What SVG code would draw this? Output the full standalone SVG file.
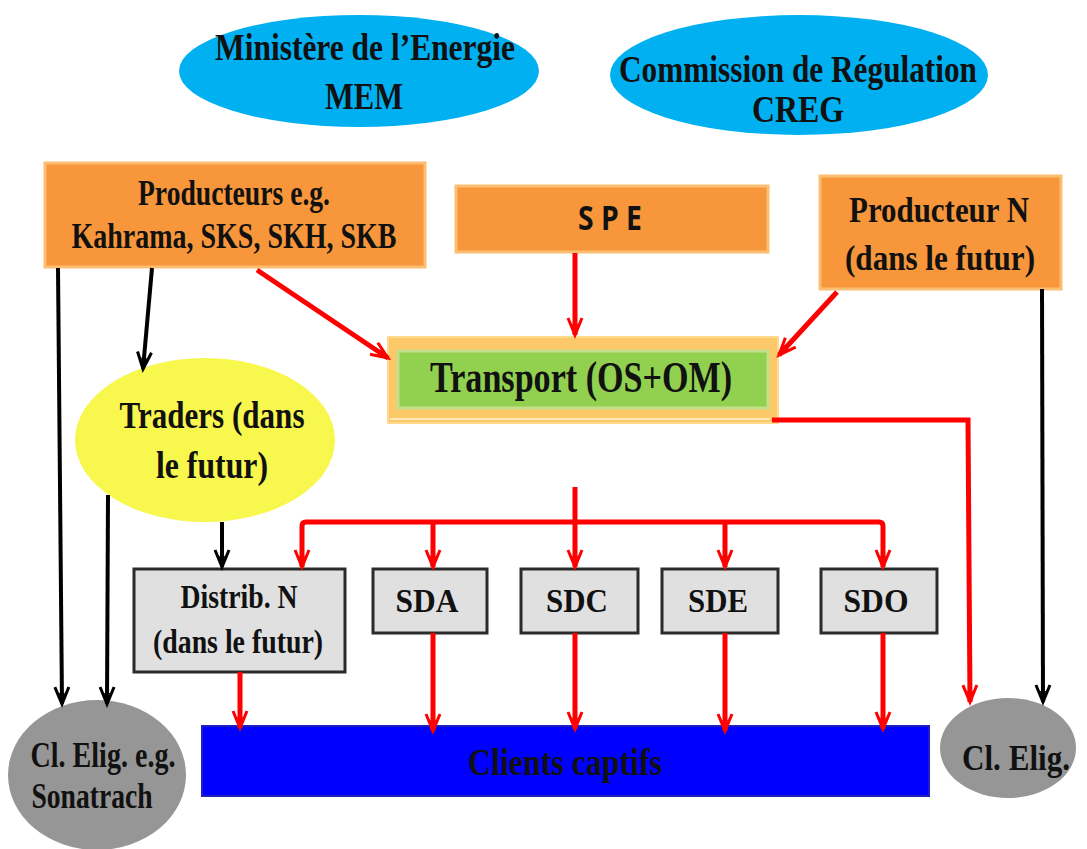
<svg xmlns="http://www.w3.org/2000/svg" width="1087" height="849" viewBox="0 0 1087 849">
  <defs>
    <style>
      .t { font-family: "Liberation Serif", "Times New Roman", serif; font-weight: bold; fill: #111; text-anchor: middle; }
      .s { font-family: "Open Sans", "Liberation Sans", sans-serif; font-weight: 700; fill: #111; text-anchor: middle; }
      .orange { fill: #F7963A; stroke: #FBBE72; stroke-width: 3; }
      .dist { fill: #E0E0E0; stroke: #2B2B2B; stroke-width: 3; }
      .red { stroke: #FF0000; stroke-width: 5; fill: none; }
      .black { stroke: #000; stroke-width: 4; fill: none; }
    </style>
    <marker id="arrRed" markerUnits="userSpaceOnUse" markerWidth="22" markerHeight="20" refX="18" refY="10" orient="auto">
      <path d="M1,3 L18,10 L1,17" fill="none" stroke="#FF0000" stroke-width="3"/>
      <path d="M7,7 L18,10 L7,13 z" fill="#FF0000"/>
    </marker>
    <marker id="arrBlack" markerUnits="userSpaceOnUse" markerWidth="22" markerHeight="20" refX="18" refY="10" orient="auto">
      <path d="M1,3 L18,10 L1,17" fill="none" stroke="#000" stroke-width="3"/>
      <path d="M7,7 L18,10 L7,13 z" fill="#000"/>
    </marker>
  </defs>

  <rect width="1087" height="849" fill="#FFFFFF"/>

  <!-- authorities -->
  <g id="mem">
    <ellipse cx="359" cy="71" rx="180" ry="56" fill="#00B0F0"/>
    <text class="t" x="365" y="60" font-size="38" textLength="300" lengthAdjust="spacingAndGlyphs">Ministère de l’Energie</text>
    <text class="t" x="364" y="109" font-size="38" textLength="78" lengthAdjust="spacingAndGlyphs">MEM</text>
  </g>
  <g id="creg">
    <ellipse cx="799" cy="75" rx="189" ry="60" fill="#00B0F0"/>
    <text class="t" x="798" y="82" font-size="38" textLength="358" lengthAdjust="spacingAndGlyphs">Commission de Régulation</text>
    <text class="t" x="798" y="122" font-size="38" textLength="92" lengthAdjust="spacingAndGlyphs">CREG</text>
  </g>

  <!-- producers -->
  <g id="producteurs">
    <rect class="orange" x="45" y="163" width="380" height="104"/>
    <text class="t" x="234" y="205" font-size="36" textLength="192" lengthAdjust="spacingAndGlyphs">Producteurs e.g.</text>
    <text class="t" x="234" y="248" font-size="36" textLength="325" lengthAdjust="spacingAndGlyphs">Kahrama, SKS, SKH, SKB</text>
  </g>
  <g id="spe">
    <rect class="orange" x="456" y="186" width="312" height="66"/>
    <text class="s" x="610" y="230" font-size="34" textLength="64" lengthAdjust="spacingAndGlyphs">S P E</text>
  </g>
  <g id="producteur-n">
    <rect class="orange" x="820" y="176" width="241" height="113"/>
    <text class="t" x="939" y="222" font-size="36" textLength="180" lengthAdjust="spacingAndGlyphs">Producteur N</text>
    <text class="t" x="940" y="270" font-size="36" textLength="190" lengthAdjust="spacingAndGlyphs">(dans le futur)</text>
  </g>

  <!-- transmission -->
  <g id="transport">
    <rect x="388" y="337" width="390" height="86" fill="#FDC867" stroke="#FFD98C" stroke-width="2"/>
    <line x1="390" y1="419" x2="770" y2="419" stroke="#FFF3D6" stroke-width="1.5"/>
    <rect x="398" y="351" width="370" height="57" fill="#92D050" stroke="#C5E08A" stroke-width="3"/>
    <text class="t" x="581" y="392" font-size="44" textLength="302" lengthAdjust="spacingAndGlyphs">Transport (OS+OM)</text>
  </g>

  <!-- traders -->
  <g id="traders">
    <ellipse cx="205" cy="440" rx="130" ry="82" fill="#F7F74E"/>
    <text class="t" x="212" y="428" font-size="38" textLength="185" lengthAdjust="spacingAndGlyphs">Traders (dans</text>
    <text class="t" x="212" y="478" font-size="38" textLength="112" lengthAdjust="spacingAndGlyphs">le futur)</text>
  </g>

  <!-- distribution companies -->
  <g id="distrib-n">
    <rect class="dist" x="134" y="569" width="211" height="103"/>
    <text class="t" x="239" y="608" font-size="34" textLength="117" lengthAdjust="spacingAndGlyphs">Distrib. N</text>
    <text class="t" x="238" y="653" font-size="34" textLength="170" lengthAdjust="spacingAndGlyphs">(dans le futur)</text>
  </g>
  <g id="sda">
    <rect class="dist" x="373" y="569" width="114" height="64"/>
    <text class="t" x="427" y="612" font-size="33" textLength="63" lengthAdjust="spacingAndGlyphs">SDA</text>
  </g>
  <g id="sdc">
    <rect class="dist" x="521" y="569" width="117" height="64"/>
    <text class="t" x="577" y="612" font-size="33" textLength="62" lengthAdjust="spacingAndGlyphs">SDC</text>
  </g>
  <g id="sde">
    <rect class="dist" x="662" y="569" width="116" height="64"/>
    <text class="t" x="718" y="612" font-size="33" textLength="60" lengthAdjust="spacingAndGlyphs">SDE</text>
  </g>
  <g id="sdo">
    <rect class="dist" x="821" y="569" width="116" height="64"/>
    <text class="t" x="876" y="612" font-size="33" textLength="65" lengthAdjust="spacingAndGlyphs">SDO</text>
  </g>

  <!-- customers -->
  <g id="clients-captifs">
    <rect x="202" y="726" width="727" height="70" fill="#0000FF" stroke="#2020C0" stroke-width="2"/>
    <text class="t" x="565" y="775" font-size="38" textLength="194" lengthAdjust="spacingAndGlyphs">Clients captifs</text>
  </g>
  <g id="cl-elig-sonatrach">
    <ellipse cx="97" cy="775" rx="89" ry="75" fill="#969696"/>
    <text class="t" x="103" y="767" font-size="35" textLength="145" lengthAdjust="spacingAndGlyphs">Cl. Elig. e.g.</text>
    <text class="t" x="92" y="808" font-size="35" textLength="121" lengthAdjust="spacingAndGlyphs">Sonatrach</text>
  </g>
  <g id="cl-elig">
    <ellipse cx="1008" cy="748" rx="68" ry="50" fill="#969696"/>
    <text class="t" x="1016" y="770" font-size="35" textLength="108" lengthAdjust="spacingAndGlyphs">Cl. Elig.</text>
  </g>

  <!-- connectors -->
  <g id="connectors">
    <!-- energy flows -->
    <line class="red" x1="257" y1="270" x2="388" y2="358" marker-end="url(#arrRed)"/>
    <line class="red" x1="575" y1="253" x2="575" y2="335" marker-end="url(#arrRed)"/>
    <line class="red" x1="837" y1="292" x2="779" y2="355" marker-end="url(#arrRed)"/>
    <polyline class="red" points="772,420 968,420 970,702" marker-end="url(#arrRed)"/>
    <!-- distribution bus -->
    <line class="red" x1="575" y1="487" x2="575" y2="567" marker-end="url(#arrRed)"/>
    <path class="red" d="M575,522 H306 Q302,522 302,526 V567" marker-end="url(#arrRed)"/>
    <path class="red" d="M575,522 H879 Q883,522 883,526 V567" marker-end="url(#arrRed)"/>
    <line class="red" x1="433" y1="522" x2="433" y2="567" marker-end="url(#arrRed)"/>
    <line class="red" x1="725" y1="522" x2="725" y2="567" marker-end="url(#arrRed)"/>
    <!-- supply to captive customers -->
    <line class="red" x1="240" y1="672" x2="240" y2="728" marker-end="url(#arrRed)"/>
    <line class="red" x1="433" y1="633" x2="433" y2="731" marker-end="url(#arrRed)"/>
    <line class="red" x1="575" y1="633" x2="575" y2="729" marker-end="url(#arrRed)"/>
    <line class="red" x1="725" y1="633" x2="725" y2="731" marker-end="url(#arrRed)"/>
    <line class="red" x1="883" y1="633" x2="883" y2="729" marker-end="url(#arrRed)"/>
    <!-- contracts -->
    <line class="black" x1="58" y1="268" x2="62" y2="704" marker-end="url(#arrBlack)"/>
    <line class="black" x1="108" y1="495" x2="107" y2="704" marker-end="url(#arrBlack)"/>
    <line class="black" x1="152" y1="268" x2="143" y2="369" marker-end="url(#arrBlack)"/>
    <line class="black" x1="222" y1="522" x2="222" y2="567" marker-end="url(#arrBlack)"/>
    <line class="black" x1="1042" y1="289" x2="1043" y2="702" marker-end="url(#arrBlack)"/>
  </g>
</svg>
